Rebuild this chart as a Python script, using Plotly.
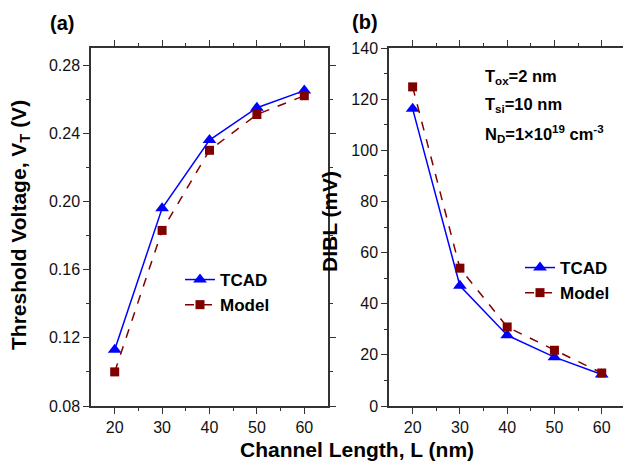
import plotly.graph_objects as go

L = [20, 30, 40, 50, 60]
vt_tcad = [0.113, 0.196, 0.236, 0.255, 0.265]
vt_model = [0.100, 0.183, 0.230, 0.251, 0.262]
dibl_tcad = [116.2, 47.0, 27.7, 19.1, 12.3]
dibl_model = [124.8, 53.9, 30.9, 21.8, 12.9]

W, H = 623, 465
FONT = "Liberation Sans, Arial, sans-serif"
BLUE = "#0000FF"
RED = "#800000"

fig = go.Figure()

def add_series(x, y, xa, ya, legend):
    fig.add_trace(go.Scatter(x=x, y=y[0], xaxis=xa, yaxis=ya, name="TCAD", mode="lines+markers",
                             line=dict(color=BLUE, width=1.5),
                             marker=dict(symbol="triangle-up", size=12, color=BLUE),
                             legend=legend))
    fig.add_trace(go.Scatter(x=x, y=y[1], xaxis=xa, yaxis=ya, name="Model", mode="lines+markers",
                             line=dict(color=RED, width=1.5, dash="dash"),
                             marker=dict(symbol="square", size=9, color=RED),
                             legend=legend))

add_series(L, (vt_tcad, vt_model), "x", "y", "legend")
add_series(L, (dibl_tcad, dibl_model), "x2", "y2", "legend2")

def px(x):
    return x / W

def py(y):
    return 1 - y / H

axis_common = dict(showline=True, linecolor="#333", linewidth=1.5, mirror="ticks",
                   ticks="outside", ticklen=6, tickwidth=1.2, tickcolor="#333",
                   showgrid=False, zeroline=False, automargin=False,
                   tickfont=dict(family=FONT, size=16, color="#111"))

ydom = [py(406), py(48)]
fig.update_layout(
    width=W, height=H, margin=dict(l=0, r=0, t=0, b=0),
    plot_bgcolor="white", paper_bgcolor="white",
    xaxis=dict(domain=[px(91), px(328)], range=[15, 65], tickvals=L, anchor="y",
               minor=dict(tickvals=[25, 35, 45, 55], ticks="outside", ticklen=3, tickcolor="#333"),
               **axis_common),
    yaxis=dict(domain=ydom, range=[0.08, 0.29], tickvals=[0.08, 0.12, 0.16, 0.20, 0.24, 0.28],
               tickformat=".2f", anchor="x",
               minor=dict(tickvals=[0.10, 0.14, 0.18, 0.22, 0.26], ticks="outside", ticklen=3, tickcolor="#333"),
               **axis_common),
    xaxis2=dict(domain=[px(389), 1.0], range=[15, 64.5], tickvals=L, anchor="y2",
                minor=dict(tickvals=[25, 35, 45, 55], ticks="outside", ticklen=3, tickcolor="#333"),
                **axis_common),
    yaxis2=dict(domain=ydom, range=[0, 140], tickvals=[0, 20, 40, 60, 80, 100, 120, 140], anchor="x2",
                minor=dict(tickvals=[10, 30, 50, 70, 90, 110, 130], ticks="outside", ticklen=3, tickcolor="#333"),
                **axis_common),
    legend=dict(x=px(180), y=py(262), xanchor="left", yanchor="top", bgcolor="rgba(0,0,0,0)",
                font=dict(family=FONT, size=17, color="black", weight="bold"),
                tracegroupgap=0, itemwidth=30),
    legend2=dict(x=px(520), y=py(250), xanchor="left", yanchor="top", bgcolor="rgba(0,0,0,0)",
                 font=dict(family=FONT, size=17, color="black", weight="bold"),
                 tracegroupgap=0, itemwidth=30),
    showlegend=True,
)

ann_font = dict(family=FONT, size=16.5, color="black")
annotations = [
    dict(text="<b>(a)</b>", x=px(48), y=py(23), xanchor="left", yanchor="middle",
         font=dict(family=FONT, size=20, color="black")),
    dict(text="<b>(b)</b>", x=px(350), y=py(22), xanchor="left", yanchor="middle",
         font=dict(family=FONT, size=20, color="black")),
    dict(text="<b>Channel Length, L (nm)</b>", x=px(357), y=py(449), xanchor="center", yanchor="middle",
         font=dict(family=FONT, size=21, color="black")),
    dict(text="<b>Threshold Voltage, V<sub>T</sub> (V)</b>", x=px(20), y=py(225), xanchor="center",
         yanchor="middle", textangle=-90, font=dict(family=FONT, size=21, color="black")),
    dict(text="<b>DIBL (mV)</b>", x=px(329), y=py(222), xanchor="center",
         yanchor="middle", textangle=-90, font=dict(family=FONT, size=21, color="black")),
    dict(text="<b>T<sub>ox</sub>=2 nm</b>", x=px(483), y=py(77), xanchor="left", yanchor="middle", font=ann_font),
    dict(text="<b>T<sub>si</sub>=10 nm</b>", x=px(483), y=py(105), xanchor="left", yanchor="middle", font=ann_font),
    dict(text="<b>N<sub>D</sub>=1×10<sup>19</sup> cm<sup>-3</sup></b>", x=px(483), y=py(134),
         xanchor="left", yanchor="middle", font=ann_font),
]
for a in annotations:
    a.update(xref="paper", yref="paper", showarrow=False)
fig.update_layout(annotations=annotations)

fig.write_html("out.html")
